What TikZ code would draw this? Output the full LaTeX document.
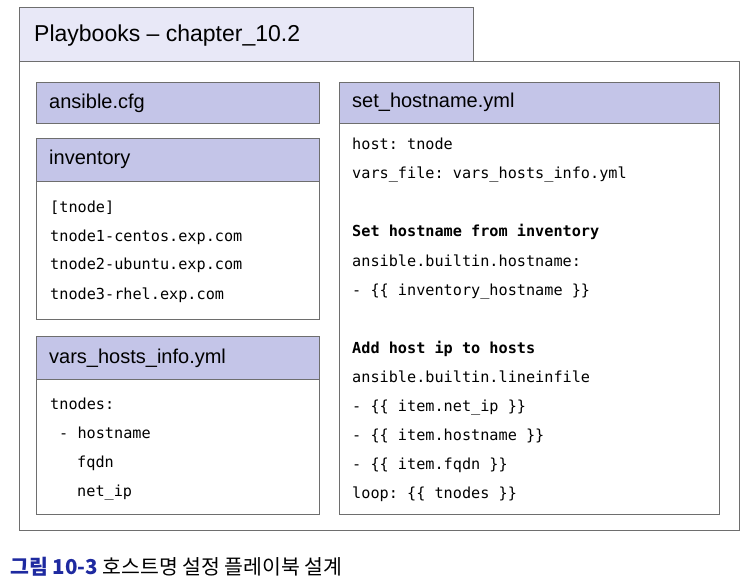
\documentclass[tikz,border=0pt]{standalone}
\usepackage{fontspec}
\setmainfont{Liberation Sans}
\setmonofont{DejaVu Sans Mono}
\newfontfamily\krfont{Noto Sans CJK KR}
\usetikzlibrary{positioning}

\definecolor{tabfill}{RGB}{232,232,247}
\definecolor{headfill}{RGB}{196,197,232}
\definecolor{linegray}{RGB}{110,110,110}
\definecolor{capblue}{RGB}{30,42,160}

\begin{document}
\begin{tikzpicture}[x=1pt,y=-1pt,
  box/.style={draw=linegray, line width=1.1pt, rectangle, inner sep=0pt, anchor=north west},
  head/.style={box, fill=headfill, minimum height=43pt},
  headtext/.style={anchor=base west, inner sep=0pt, font=\fontsize{20}{23}\selectfont},
  code/.style={anchor=base west, inner sep=0pt, font=\ttfamily\fontsize{15.2}{18}\selectfont}]
\useasboundingbox (0,0) rectangle (750,580);

\node[box, minimum width=720pt, minimum height=469pt] (frame) at (19,61) {};
\node[box, fill=tabfill, minimum width=454pt, minimum height=54pt] (tab) at (19,7) {};
\node[headtext, font=\fontsize{23}{26}\selectfont] (title) at (34,42) {Playbooks -- chapter\_10.2};

\node[head, minimum width=283pt, minimum height=41pt] (cfg) at (36,82) {};
\node[headtext] (cfgname) at (49,109) {ansible.cfg};

\node[box, minimum width=283pt, minimum height=138pt] (invbody) at (36,181) {};
\node[head, minimum width=283pt] (inv) at (36,138) {};
\node[headtext] (invname) at (49,165) {inventory};
\foreach \y/\t [count=\i] in {213/[tnode], 242/tnode1-centos.exp.com, 270/tnode2-ubuntu.exp.com, 299/tnode3-rhel.exp.com}
  \node[code] (inv\i) at (50,\y) {\t};

\node[box, minimum width=283pt, minimum height=135pt] (varsbody) at (36,379) {};
\node[head, minimum width=283pt] (vars) at (36,336) {};
\node[headtext] (varsname) at (49,363) {vars\_hosts\_info.yml};
\foreach \x/\y/\t [count=\i] in {50/409/tnodes:, 59/438/- hostname, 77/467/fqdn, 77/496/net\_ip}
  \node[code] (vars\i) at (\x,\y) {\t};

\node[box, minimum width=380pt, minimum height=391pt] (setbody) at (339,123) {};
\node[head, minimum width=380pt, minimum height=41pt] (set) at (339,82) {};
\node[headtext] (setname) at (352,108) {set\_hostname.yml};
\foreach \y/\t [count=\i] in {150/host: tnode, 179/vars\_file: vars\_hosts\_info.yml,
  237/\textbf{Set hostname from inventory}, 266/ansible.builtin.hostname:, 295/{- \{\{ inventory\_hostname \}\}},
  353/\textbf{Add host ip to hosts}, 382/ansible.builtin.lineinfile, 411/{- \{\{ item.net\_ip \}\}},
  440/{- \{\{ item.hostname \}\}}, 469/{- \{\{ item.fqdn \}\}}, 498/{loop: \{\{ tnodes \}\}}}
  \node[code] (set\i) at (352,\y) {\t};

\node[anchor=base west, inner sep=0pt, font=\krfont\fontsize{20.5}{24}\selectfont] (caption) at (10,574)
  {\textcolor{capblue}{\bfseries 그림 10-3} 호스트명 설정 플레이북 설계};
\end{tikzpicture}
\end{document}
